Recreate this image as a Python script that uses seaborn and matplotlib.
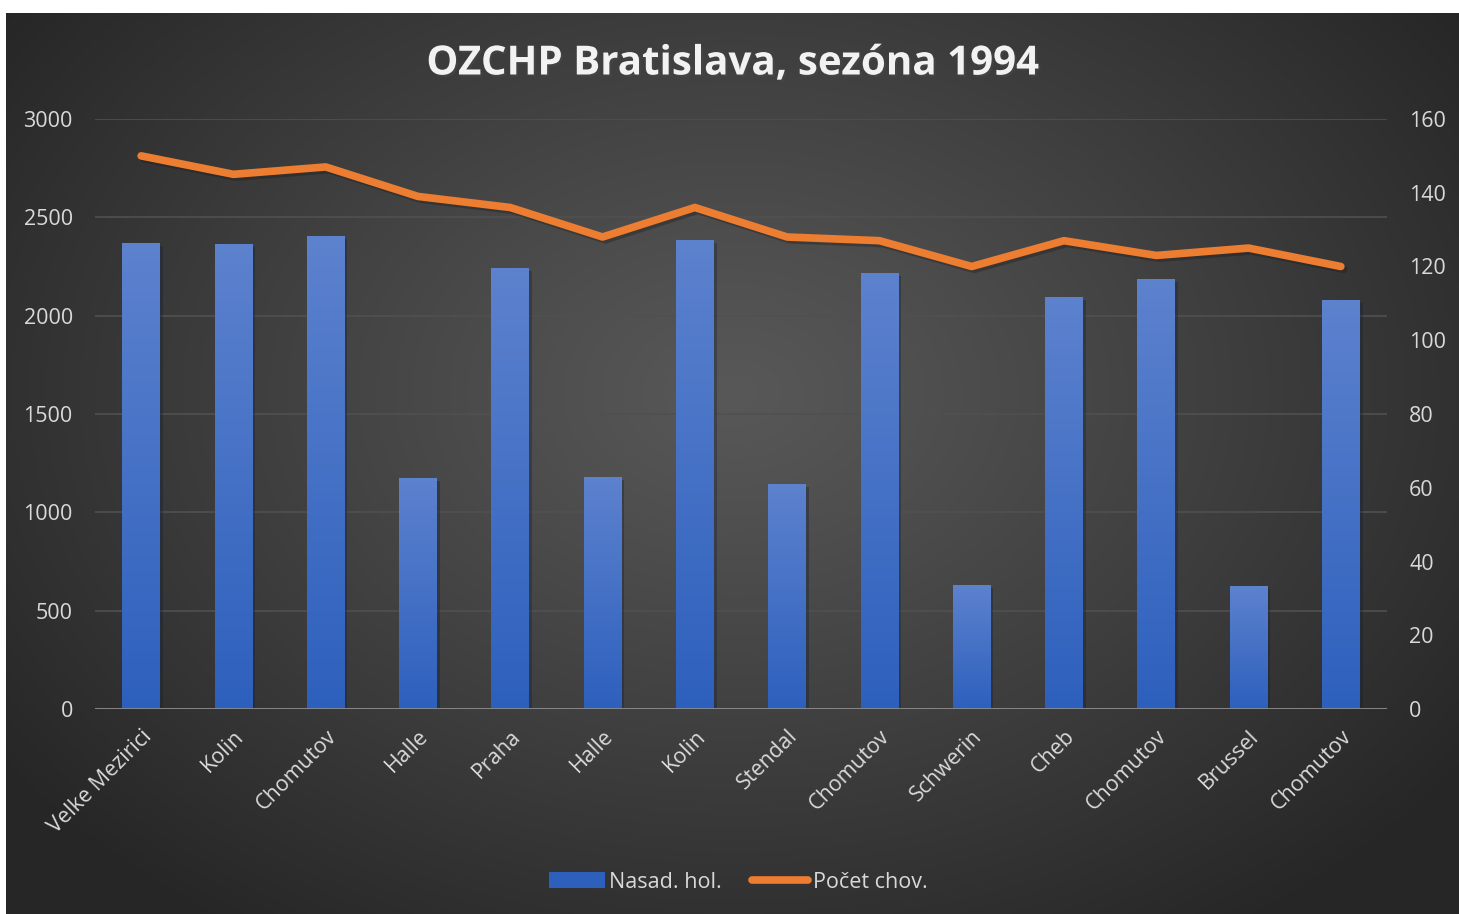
import numpy as np
import pandas as pd
import matplotlib
matplotlib.use("Agg")
import matplotlib.pyplot as plt
import matplotlib.patheffects as pe
from matplotlib.patches import Patch
from matplotlib.lines import Line2D
import seaborn as sns

# data
cities = ["Velke Mezirici", "Kolin", "Chomutov", "Halle", "Praha", "Halle", "Kolin",
          "Stendal", "Chomutov", "Schwerin", "Cheb", "Chomutov", "Brussel", "Chomutov"]
nasad_hol = [2370, 2365, 2405, 1175, 2242, 1180, 2385, 1144, 2217, 630, 2095, 2186, 625, 2080]
pocet_chov = [150, 145, 147, 139, 136, 128, 136, 128, 127, 120, 127, 123, 125, 120]

df = pd.DataFrame({"pos": range(len(cities)), "city": cities,
                   "nasad": nasad_hol, "pocet": pocet_chov})

sns.set_theme(style="dark")
plt.rcParams["font.family"] = ["Open Sans", "DejaVu Sans"]

txt = "#d9d9d9"
grid_c = "#505050"
bar_top = np.array([0x5d, 0x82, 0xce]) / 255
bar_bot = np.array([0x2d, 0x60, 0xbd]) / 255
orange = "#ed7d31"
fs = 15.5

fig = plt.figure(figsize=(14.59, 9.14), dpi=100)
fig.patch.set_facecolor("white")

# radial dark background
bg = fig.add_axes([6 / 1459, 0, 1453 / 1459, 901 / 914])
h, w = 300, 480
yy, xx = np.mgrid[0:h, 0:w]
r = np.sqrt(((xx - w * 0.5) / (w * 0.62)) ** 2 + ((yy - h * 0.42) / (h * 0.72)) ** 2)
r = np.clip(r, 0, 1)
shade = 0.345 - (0.345 - 0.15) * r ** 1.1
bg.imshow(np.dstack([shade] * 3), aspect="auto", extent=[0, 1, 0, 1], interpolation="bicubic")
bg.set_axis_off()

ax = fig.add_axes([95 / 1459, 1 - 709 / 914, 1292 / 1459, 590 / 914])
ax.set_facecolor("none")

sns.barplot(data=df, x="pos", y="nasad", color=bar_bot, width=0.41, ax=ax, zorder=2)

# vertical gradient on each bar
grad = np.linspace(0, 1, 256)[:, None, None]
grad_img = bar_top * (1 - grad) + bar_bot * grad
for p in ax.patches:
    x0, y0 = p.get_x(), p.get_y()
    bw, bh = p.get_width(), p.get_height()
    im = ax.imshow(grad_img, extent=[x0, x0 + bw, y0, y0 + bh], aspect="auto",
                   zorder=2.5, interpolation="bilinear")
    im.set_clip_path(p)
    p.set_path_effects([pe.SimplePatchShadow(offset=(2, -2), alpha=0.35)])

ax.set_xlim(-0.5, len(cities) - 0.5)
ax.set_ylim(0, 3000)
ax.set_yticks(range(0, 3001, 500))
ax.yaxis.grid(True, color=grid_c, linewidth=1.2)
ax.xaxis.grid(False)
ax.set_axisbelow(True)
ax.set_xticks(df["pos"])
ax.set_xticklabels(cities, rotation=45, ha="right", rotation_mode="anchor")
ax.tick_params(axis="x", colors=txt, labelsize=fs, length=0, pad=12)
ax.tick_params(axis="y", colors=txt, labelsize=fs, length=0, pad=16)
ax.set_xlabel("")
ax.set_ylabel("")
for s in ax.spines.values():
    s.set_visible(False)
ax.axhline(0, color="#8c8c8c", linewidth=2, zorder=3)

ax2 = ax.twinx()
sns.lineplot(data=df, x="pos", y="pocet", color=orange, linewidth=5.5, ax=ax2,
             solid_capstyle="round", solid_joinstyle="round",
             path_effects=[pe.SimpleLineShadow(offset=(2, -2), alpha=0.35), pe.Normal()])
ax2.set_ylim(0, 160)
ax2.set_yticks(range(0, 161, 20))
ax2.set_xlim(-0.5, len(cities) - 0.5)
ax2.tick_params(axis="y", colors=txt, labelsize=fs, length=0, pad=16)
ax2.set_ylabel("")
ax2.set_xlabel("")
ax2.grid(False)
for s in ax2.spines.values():
    s.set_visible(False)

fig.text(0.502, 1 - 64 / 914, "OZCHP Bratislava, sezóna 1994", ha="center", va="center",
         fontsize=29, fontweight="bold", color="#f2f2f2",
         path_effects=[pe.withSimplePatchShadow(offset=(1.5, -1.5), alpha=0.5)])

handles = [Patch(facecolor=bar_bot, edgecolor="none", label="Nasad. hol."),
           Line2D([0], [0], color=orange, linewidth=5.5, solid_capstyle="round", label="Počet chov.")]
leg = fig.legend(handles=handles, loc="center", bbox_to_anchor=(0.506, 1 - 882 / 914), ncol=2,
                 frameon=False, fontsize=fs, labelcolor=txt, handlelength=2.6,
                 handletextpad=0.2, columnspacing=1.4, handleheight=0.8)

fig.savefig("out.png", dpi=100)
